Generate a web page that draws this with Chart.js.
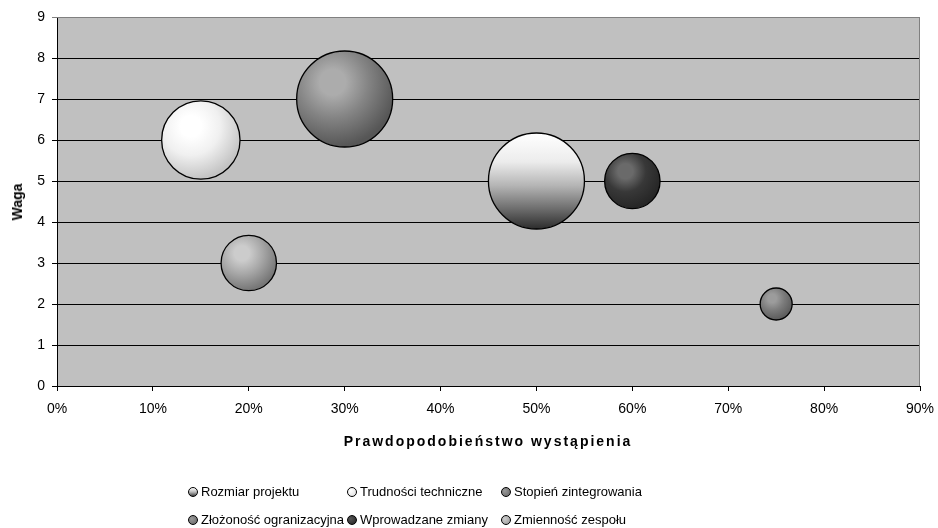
<!DOCTYPE html>
<html>
<head>
<meta charset="utf-8">
<script src="https://cdn.jsdelivr.net/npm/chart.js@4"></script>
<style>
  html, body { margin: 0; padding: 0; background: #fff; }
  #wrap { position: relative; width: 938px; height: 528px; font-family: "Liberation Sans", Arial, sans-serif; }
  #c { position: absolute; left: 0; top: 0; }
  .lg { position: absolute; font-size: 13px; color: #000; white-space: nowrap; line-height: 16px; }
  .lg i { position: absolute; left: -13px; top: 3px; width: 8px; height: 8px; border: 1px solid #000; border-radius: 50%; }
  .xt { position: absolute; left: 0; width: 976px; top: 432px; text-align: center; font-weight: bold; font-size: 14px; letter-spacing: 2px; line-height: 18px; }
  .yt { position: absolute; left: 17px; top: 202px; font-weight: bold; font-size: 14px; line-height: 18px; transform: translate(-50%, -50%) rotate(-90deg); white-space: nowrap; }
</style>
</head>
<body>
<div id="wrap">
  <canvas id="c" width="938" height="528"></canvas>
  <div class="xt" id="xt"></div>
  <div class="yt" id="yt"></div>
</div>
<script>
// ---- data ----
const seriesNames = ["Rozmiar projektu", "Trudności techniczne", "Stopień zintegrowania",
                     "Złożoność ogranizacyjna", "Wprowadzane zmiany", "Zmienność zespołu"];
const probability = [50, 15, 75, 30, 60, 20];   // % (x)
const weight      = [5, 6, 2, 7, 5, 3];          // Waga (y)
const bubbleSize  = [9, 6, 1, 9, 3, 3];          // bubble size value
const xTicks = [0, 10, 20, 30, 40, 50, 60, 70, 80, 90];
const yTicks = [0, 1, 2, 3, 4, 5, 6, 7, 8, 9];
const xTitle = "Prawdopodobieństwo wystąpienia";
const yTitle = "Waga";

// ---- styles ----
const MAX_R = 48;
const maxSize = Math.max(...bubbleSize);
// radial [highlight, mid, edge] colours; null => vertical linear gradient
const shades = [
  null,
  ['#ffffff', '#f0f0f0', '#c4c4c4'],
  ['#9c9c9c', '#7c7c7c', '#5c5c5c'],
  ['#acacac', '#848484', '#565656'],
  ['#6a6a6a', '#383838', '#262626'],
  ['#cccccc', '#a8a8a8', '#767676']
];
const legendCss = [
  'linear-gradient(#fff, #bbb 50%, #444)',
  'radial-gradient(circle at 35% 35%, #fff, #ddd)',
  'radial-gradient(circle at 35% 35%, #999, #666)',
  'radial-gradient(circle at 35% 35%, #999, #666)',
  'radial-gradient(circle at 35% 35%, #555, #222)',
  'radial-gradient(circle at 35% 35%, #ccc, #999)'
];

function makeFill(i) {
  return function (ctx) {
    const chart = ctx.chart;
    const sx = chart.scales.x, sy = chart.scales.y;
    if (!sx || !sy || !chart.chartArea) return '#999';
    const raw = ctx.raw || {};
    const cx = sx.getPixelForValue(raw.x), cy = sy.getPixelForValue(raw.y);
    const r = raw.r || 10;
    if (!isFinite(cx) || !isFinite(cy)) return '#999';
    const c = chart.ctx;
    if (shades[i] === null) {
      const g = c.createLinearGradient(0, cy - r, 0, cy + r);
      g.addColorStop(0, '#ffffff');
      g.addColorStop(0.3, '#ececec');
      g.addColorStop(0.55, '#b4b4b4');
      g.addColorStop(0.8, '#6a6a6a');
      g.addColorStop(1, '#2c2c2c');
      return g;
    }
    const hx = cx - 0.25 * r, hy = cy - 0.35 * r;
    const g = c.createRadialGradient(hx, hy, 0, hx, hy, 1.35 * r);
    g.addColorStop(0, shades[i][0]);
    g.addColorStop(0.2, shades[i][0]);
    g.addColorStop(0.55, shades[i][1]);
    g.addColorStop(1, shades[i][2]);
    return g;
  };
}

const datasets = seriesNames.map((name, i) => ({
  label: name,
  data: [{ x: probability[i], y: weight[i], r: MAX_R * Math.sqrt(bubbleSize[i] / maxSize) }],
  backgroundColor: makeFill(i),
  borderColor: '#000',
  borderWidth: 1.3,
  hoverRadius: 0
}));

const plotBg = {
  id: 'plotBg',
  beforeDraw(chart) {
    const { ctx, chartArea: a } = chart;
    ctx.save();
    ctx.fillStyle = '#c0c0c0';
    ctx.fillRect(a.left, a.top, a.right - a.left, a.bottom - a.top);
    ctx.restore();
  },
  afterDatasetsDraw(chart) {
    const { ctx, chartArea: a } = chart;
    ctx.save();
    ctx.strokeStyle = '#808080';
    ctx.lineWidth = 1;
    ctx.beginPath();
    ctx.moveTo(a.left, a.top + 0.5);
    ctx.lineTo(a.right - 0.5, a.top + 0.5);
    ctx.lineTo(a.right - 0.5, a.bottom);
    ctx.stroke();
    ctx.restore();
  }
};

const font = { family: '"Liberation Sans", Arial, sans-serif', size: 14 };

new Chart(document.getElementById('c'), {
  type: 'bubble',
  data: { datasets },
  options: {
    responsive: false,
    animation: false,
    events: [],
    layout: { autoPadding: false, padding: { left: 7, right: 18, top: 17, bottom: 80 } },
    plugins: { legend: { display: false }, tooltip: { enabled: false } },
    scales: {
      x: {
        type: 'linear', min: 0, max: 90,
        afterBuildTicks(s) { s.ticks = xTicks.map(v => ({ value: v })); },
        afterFit(s) { s.height = 62; s.paddingLeft = 0; s.paddingRight = 0; },
        ticks: { font, color: '#000', padding: 10, maxRotation: 0, callback: v => v + '%' },
        grid: { drawOnChartArea: false, drawTicks: true, tickLength: 5, color: '#000', lineWidth: 1 },
        border: { color: '#000', width: 1 },
        title: { display: false }
      },
      y: {
        type: 'linear', min: 0, max: 9,
        afterBuildTicks(s) { s.ticks = yTicks.map(v => ({ value: v })); },
        afterFit(s) { s.width = 50; s.paddingTop = 0; s.paddingBottom = 0; },
        ticks: { font, color: '#000', padding: 7 },
        grid: { drawTicks: true, tickLength: 5, color: c => (c.tick && c.tick.value === 9 ? '#808080' : '#000'), lineWidth: 1 },
        border: { color: '#000', width: 1 },
        title: { display: false }
      }
    }
  },
  plugins: [plotBg]
});

document.getElementById('xt').textContent = xTitle;
document.getElementById('yt').textContent = yTitle;

// HTML legend (3 columns x 2 rows)
const colX = [201, 360, 514];
const rowY = [484, 512];
const wrap = document.getElementById('wrap');
seriesNames.forEach((name, i) => {
  const d = document.createElement('div');
  d.className = 'lg';
  d.style.left = colX[i % 3] + 'px';
  d.style.top = rowY[Math.floor(i / 3)] + 'px';
  const ic = document.createElement('i');
  ic.style.background = legendCss[i];
  d.appendChild(ic);
  d.appendChild(document.createTextNode(name));
  wrap.appendChild(d);
});
</script>
</body>
</html>
